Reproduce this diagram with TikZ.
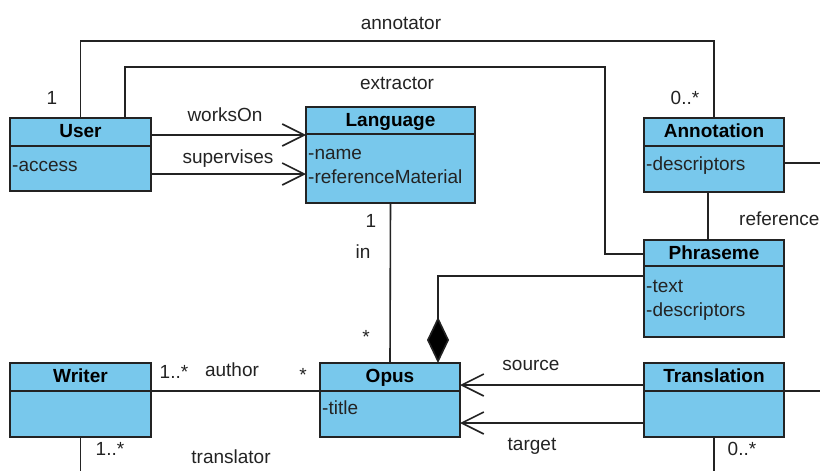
\documentclass[tikz,border=0pt]{standalone}
\usepackage{fontspec}
\setmainfont{Liberation Sans}
\usetikzlibrary{arrows.meta}
\definecolor{clsfill}{RGB}{120,200,236}
\definecolor{ink}{RGB}{35,35,35}
\tikzset{
  cls/.style={draw=ink, fill=clsfill, line width=1.6pt, inner sep=0pt, outer sep=0pt},
  sep/.style={draw=ink, line width=1.6pt},
  ttl/.style={font=\fontsize{19}{22}\selectfont\bfseries, inner sep=0pt, text=black},
  att/.style={font=\fontsize{19}{22}\selectfont, inner sep=0pt, text=ink},
  lbl/.style={font=\fontsize{19}{22}\selectfont, inner sep=0pt, text=ink},
  conn/.style={draw=ink, line width=1.6pt},
  navi/.style={conn, -{Straight Barb[length=22pt, width=22pt, line width=1.6pt]}},
  compo/.style={conn, -{Diamond[length=46pt, width=22pt, fill=black]}},
}
\newcommand\umlcls[7]{%
  \node[cls, minimum width=#4pt, minimum height=#5pt, anchor=north west] (#1) at (#2,#3) {};
  \draw[sep] ([yshift=-#6pt]#1.north west) -- ([yshift=-#6pt]#1.north east);
  \node[ttl, anchor=base] (#1-t) at ([yshift=-19.5pt]#1.north) {#7};
}
\begin{document}
\begin{tikzpicture}[x=1pt, y=-1pt]
\useasboundingbox (0,0) rectangle (820,471);

% connectors first (boxes drawn on top)
\coordinate (exc) at (605,254);
\coordinate (annR) at (822,163);
\coordinate (trR) at (822,391);
\coordinate (wrB) at (80.5,473);
\coordinate (trB) at (714,473);

% classes
\umlcls{user}{10}{118}{141}{73}{28}{User}
\node[att, anchor=base west] (user-a1) at ([xshift=2pt, yshift=-53pt]user.north west) {-access};

\umlcls{language}{306}{107}{169}{96}{27}{Language}
\node[att, anchor=base west] (language-a1) at ([xshift=2pt, yshift=-52pt]language.north west) {-name};
\node[att, anchor=base west] (language-a2) at ([xshift=2pt, yshift=-76pt]language.north west) {-referenceMaterial};

\umlcls{annotation}{644}{118}{140}{74}{28}{Annotation}
\node[att, anchor=base west] (annotation-a1) at ([xshift=2pt, yshift=-52pt]annotation.north west) {-descriptors};

\umlcls{phraseme}{644}{240}{140}{97}{26}{Phraseme}
\node[att, anchor=base west] (phraseme-a1) at ([xshift=2pt, yshift=-52pt]phraseme.north west) {-text};
\node[att, anchor=base west] (phraseme-a2) at ([xshift=2pt, yshift=-76pt]phraseme.north west) {-descriptors};

\umlcls{writer}{10}{363}{141}{74}{28}{Writer}

\umlcls{opus}{320}{363}{140}{74}{28}{Opus}
\node[att, anchor=base west] (opus-a1) at ([xshift=2pt, yshift=-51pt]opus.north west) {-title};

\umlcls{translation}{644}{363}{140}{74}{28}{Translation}

% associations
\draw[conn] (user.north) -- ++(0,-77) -| (annotation.north);
\draw[conn] ([xshift=44.5pt]user.north) -- ++(0,-51) -| (exc) -- (exc -| phraseme.west);
\coordinate (w1) at ([yshift=19.5pt]user.east);
\coordinate (w2) at ([yshift=-19.5pt]user.east);
\draw[navi] (w1) -- (w1 -| language.west);
\draw[navi] (w2) -- (w2 -| language.west);
\draw[conn] (language.south) -- (opus.north);
\draw[conn] ([yshift=-8pt]annotation.east) -- (annR);
\draw[conn] ([xshift=-6pt]annotation.south) -- ([xshift=-6pt]phraseme.north);
\draw[compo] ([yshift=12.5pt]phraseme.west) -| ([xshift=48pt]opus.north);
\draw[conn] ([yshift=9pt]writer.east) -- ([yshift=9pt]opus.west);
\coordinate (s1) at ([yshift=15pt]translation.west);
\coordinate (s2) at ([yshift=-23pt]translation.west);
\draw[navi] (s1) -- (s1 -| opus.east);
\draw[navi] (s2) -- (s2 -| opus.east);
\draw[conn] ([yshift=9pt]translation.east) -- (trR);
\draw[conn] (writer.south) -- (wrB);
\draw[conn] (translation.south) -- (trB);

% labels
\node[lbl, anchor=base] (l-annotator) at (401,29) {annotator};
\node[lbl, anchor=base] (l-one1) at (52,104) {1};
\node[lbl, anchor=base] (l-zm1) at (685,104) {0..*};
\node[lbl, anchor=base] (l-extractor) at (397,89) {extractor};
\node[lbl, anchor=base] (l-workson) at (225,121) {worksOn};
\node[lbl, anchor=base] (l-supervises) at (228,163) {supervises};
\node[lbl, anchor=base] (l-one2) at (371,227) {1};
\node[lbl, anchor=base] (l-in) at (363,258) {in};
\node[lbl, anchor=base] (l-star1) at (366,343) {*};
\node[lbl, anchor=base west] (l-reference) at (739,225) {reference};
\node[lbl, anchor=base] (l-om1) at (174,378) {1..*};
\node[lbl, anchor=base] (l-author) at (232,376) {author};
\node[lbl, anchor=base] (l-star2) at (303,381) {*};
\node[lbl, anchor=base] (l-source) at (531,370) {source};
\node[lbl, anchor=base] (l-target) at (532,450) {target};
\node[lbl, anchor=base] (l-om2) at (110,455) {1..*};
\node[lbl, anchor=base] (l-translator) at (231,463) {translator};
\node[lbl, anchor=base] (l-zm2) at (742,455) {0..*};
\end{tikzpicture}
\end{document}
